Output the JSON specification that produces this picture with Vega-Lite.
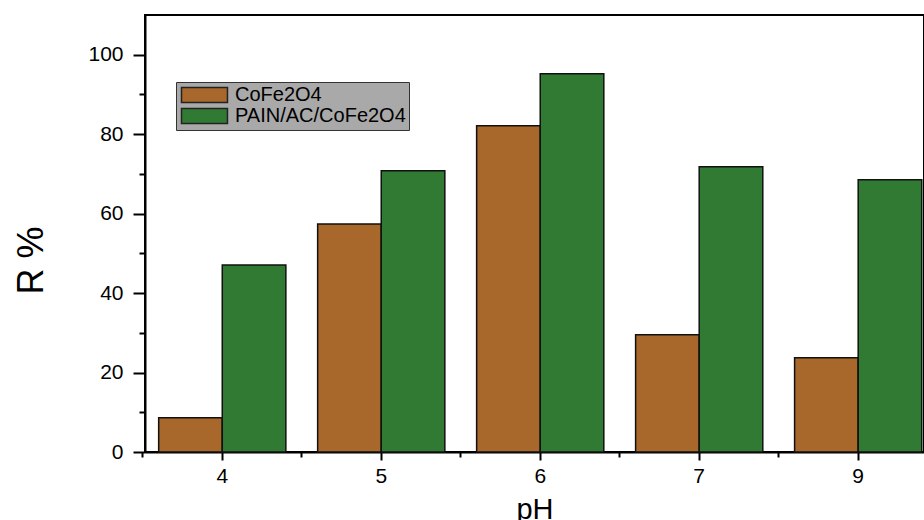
{
  "$schema": "https://vega.github.io/schema/vega-lite/v6.json",
  "width": 779,
  "height": 437,
  "autosize": "none",
  "padding": {"left": 145, "top": 15, "right": 0, "bottom": 68},
  "background": "white",
  "config": {
    "font": "Liberation Sans",
    "view": {"stroke": "#000", "strokeWidth": 2}
  },
  "data": {
    "values": [
      {"pH": "4", "Material": "CoFe2O4", "R": 8.6},
      {"pH": "4", "Material": "PAIN/AC/CoFe2O4", "R": 47.1},
      {"pH": "5", "Material": "CoFe2O4", "R": 57.4},
      {"pH": "5", "Material": "PAIN/AC/CoFe2O4", "R": 70.8},
      {"pH": "6", "Material": "CoFe2O4", "R": 82.1},
      {"pH": "6", "Material": "PAIN/AC/CoFe2O4", "R": 95.2},
      {"pH": "7", "Material": "CoFe2O4", "R": 29.5},
      {"pH": "7", "Material": "PAIN/AC/CoFe2O4", "R": 71.8},
      {"pH": "9", "Material": "CoFe2O4", "R": 23.7},
      {"pH": "9", "Material": "PAIN/AC/CoFe2O4", "R": 68.5}
    ]
  },
  "layer": [
    {
      "mark": {"type": "bar", "opacity": 0},
      "encoding": {
        "x": {
          "field": "pH", "type": "nominal", "sort": ["4", "5", "6", "7", "9"],
          "scale": {"paddingInner": 0.2, "paddingOuter": 0.05, "align": 0.86},
          "axis": {"orient": "bottom", "bandPosition": -0.125, "labels": false, "domain": false, "title": null, "tickSize": 5, "tickWidth": 2, "tickColor": "#000"}
        },
        "xOffset": {"field": "Material", "type": "nominal", "sort": ["CoFe2O4", "PAIN/AC/CoFe2O4"], "scale": {"paddingInner": 0, "paddingOuter": 0}},
        "y": {
          "field": "R", "type": "quantitative",
          "scale": {"domain": [0, 110], "nice": false},
          "axis": {"orient": "left", "values": [10, 30, 50, 70, 90], "labels": false, "domain": false, "grid": false, "title": null, "tickSize": 6, "tickWidth": 2, "tickColor": "#000"}
        }
      }
    },
    {
      "mark": {"type": "bar", "stroke": "#111", "strokeWidth": 1.5},
      "encoding": {
        "x": {
          "field": "pH", "type": "nominal", "sort": ["4", "5", "6", "7", "9"],
          "scale": {"paddingInner": 0.2, "paddingOuter": 0.05, "align": 0.86},
          "axis": {
            "orient": "bottom", "title": "pH", "labelAngle": 0,
            "labelFontSize": 21, "labelColor": "#000", "labelPadding": 5,
            "tickSize": 8, "tickWidth": 2, "tickColor": "#000",
            "domainColor": "#000", "domainWidth": 2,
            "titleFontSize": 29, "titleFontWeight": "normal", "titleColor": "#000",
            "titleBaseline": "alphabetic", "titleY": 66
          }
        },
        "xOffset": {"field": "Material", "type": "nominal", "sort": ["CoFe2O4", "PAIN/AC/CoFe2O4"], "scale": {"paddingInner": 0, "paddingOuter": 0}},
        "y": {
          "field": "R", "type": "quantitative",
          "scale": {"domain": [0, 110], "nice": false},
          "axis": {
            "orient": "left", "values": [0, 20, 40, 60, 80, 100], "grid": false,
            "title": "R %", "labelFontSize": 21, "labelColor": "#000", "labelPadding": 10,
            "tickSize": 12, "tickWidth": 2, "tickColor": "#000",
            "domainColor": "#000", "domainWidth": 2,
            "titleFontSize": 36, "titleFontWeight": "normal", "titleColor": "#000",
            "titleBaseline": "alphabetic", "titleAlign": "center", "titleX": -103, "titleY": 245
          }
        },
        "color": {
          "field": "Material", "type": "nominal",
          "scale": {"domain": ["CoFe2O4", "PAIN/AC/CoFe2O4"], "range": ["#A8672B", "#317A33"]},
          "legend": {
            "orient": "none", "legendX": 31, "legendY": 67, "title": null,
            "fillColor": "#a9a9a9", "strokeColor": "#333", "padding": 3,
            "symbolType": "M-1,-1H5.13V1H-1Z", "symbolSize": 225,
            "symbolStrokeColor": "#222", "symbolStrokeWidth": 1.5, "symbolOpacity": 1,
            "labelFontSize": 20, "labelColor": "#000", "labelOffset": 36, "labelLimit": 400,
            "rowPadding": -3
          }
        }
      }
    }
  ],
  "resolve": {"axis": {"x": "independent", "y": "independent"}}
}
